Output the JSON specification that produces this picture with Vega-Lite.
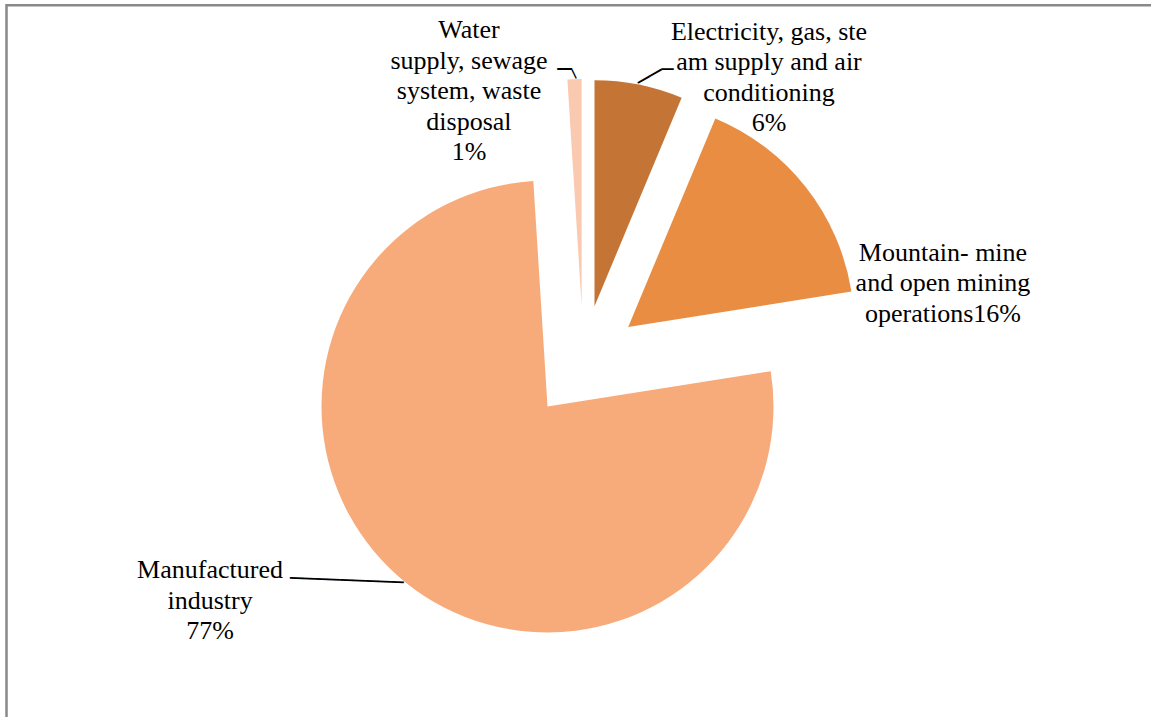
{
  "$schema": "https://vega.github.io/schema/vega-lite/v6.json",
  "width": 1153.6,
  "height": 713.6,
  "autosize": {"type": "none"},
  "padding": {"left": 6.5, "top": 5.3, "right": -9.1, "bottom": -1.9},
  "background": "white",
  "view": {"stroke": "#898989", "strokeWidth": 2.5, "fill": "white"},
  "data": {
    "values": [
      {"category": "Electricity", "share": 6.3, "order": 1, "label": "Electricity, gas, ste\nam supply and air\nconditioning\n6%"},
      {"category": "Mountain", "share": 16.2, "order": 2, "label": "Mountain- mine\nand open mining\noperations16%"},
      {"category": "Manufactured", "share": 76.5, "order": 3, "label": "Manufactured\nindustry\n77%"},
      {"category": "Water", "share": 1.0, "order": 4, "label": "Water\nsupply, sewage\nsystem, waste\ndisposal\n1%"}
    ]
  },
  "transform": [
    {"stack": "share", "groupby": [], "sort": [{"field": "order", "order": "ascending"}], "as": ["s0", "s1"]}
  ],
  "layer": [
    {
      "transform": [{"filter": "datum.category === 'Electricity'"}],
      "mark": {"type": "arc", "outerRadius": 226, "xOffset": 11.2, "yOffset": -55.9},
      "encoding": {
        "theta": {"field": "s0", "type": "quantitative", "scale": {"domain": [0, 100]}},
        "theta2": {"field": "s1"},
        "color": {"field": "category", "type": "nominal", "legend": null,
          "scale": {"domain": ["Electricity", "Mountain", "Manufactured", "Water"], "range": ["#C47535", "#E88D42", "#F7AA7A", "#F9C9B0"]}}
      }
    },
    {
      "transform": [{"filter": "datum.category === 'Mountain'"}],
      "mark": {"type": "arc", "outerRadius": 226, "xOffset": 44.9, "yOffset": -35.2},
      "encoding": {
        "theta": {"field": "s0", "type": "quantitative", "scale": {"domain": [0, 100]}},
        "theta2": {"field": "s1"},
        "color": {"field": "category", "type": "nominal", "legend": null}
      }
    },
    {
      "transform": [{"filter": "datum.category === 'Manufactured'"}],
      "mark": {"type": "arc", "outerRadius": 226, "xOffset": -35.8, "yOffset": 44.4},
      "encoding": {
        "theta": {"field": "s0", "type": "quantitative", "scale": {"domain": [0, 100]}},
        "theta2": {"field": "s1"},
        "color": {"field": "category", "type": "nominal", "legend": null}
      }
    },
    {
      "transform": [{"filter": "datum.category === 'Water'"}],
      "mark": {"type": "arc", "outerRadius": 226, "xOffset": -1.7, "yOffset": -57.0},
      "encoding": {
        "theta": {"field": "s0", "type": "quantitative", "scale": {"domain": [0, 100]}},
        "theta2": {"field": "s1"},
        "color": {"field": "category", "type": "nominal", "legend": null}
      }
    },
    {
      "mark": {"type": "text", "radius": 300, "dx": 126.7, "dy": -27.9, "align": "center", "baseline": "alphabetic", "lineBreak": "\n", "lineHeight": 30.4, "font": "Liberation Serif, Times New Roman, DejaVu Serif, serif", "fontSize": 26, "color": "black"},
      "encoding": {
        "theta": {"field": "share", "type": "quantitative", "stack": "zero", "scale": {"domain": [0, 100]}},
        "order": {"field": "order", "type": "quantitative", "sort": "ascending"},
        "text": {"condition": {"test": "datum.category === 'Electricity'", "field": "label", "type": "nominal"}, "value": ""}
      }
    },
    {
      "mark": {"type": "text", "radius": 300, "dx": 123.8, "dy": 84.0, "align": "center", "baseline": "alphabetic", "lineBreak": "\n", "lineHeight": 30.4, "font": "Liberation Serif, Times New Roman, DejaVu Serif, serif", "fontSize": 26, "color": "black"},
      "encoding": {
        "theta": {"field": "share", "type": "quantitative", "stack": "zero", "scale": {"domain": [0, 100]}},
        "order": {"field": "order", "type": "quantitative", "sort": "ascending"},
        "text": {"condition": {"test": "datum.category === 'Mountain'", "field": "label", "type": "nominal"}, "value": ""}
      }
    },
    {
      "mark": {"type": "text", "radius": 300, "dx": -185.7, "dy": -17.9, "align": "center", "baseline": "alphabetic", "lineBreak": "\n", "lineHeight": 30.4, "font": "Liberation Serif, Times New Roman, DejaVu Serif, serif", "fontSize": 26, "color": "black"},
      "encoding": {
        "theta": {"field": "share", "type": "quantitative", "stack": "zero", "scale": {"domain": [0, 100]}},
        "order": {"field": "order", "type": "quantitative", "sort": "ascending"},
        "text": {"condition": {"test": "datum.category === 'Manufactured'", "field": "label", "type": "nominal"}, "value": ""}
      }
    },
    {
      "mark": {"type": "text", "radius": 300, "dx": -104.9, "dy": -23.9, "align": "center", "baseline": "alphabetic", "lineBreak": "\n", "lineHeight": 30.4, "font": "Liberation Serif, Times New Roman, DejaVu Serif, serif", "fontSize": 26, "color": "black"},
      "encoding": {
        "theta": {"field": "share", "type": "quantitative", "stack": "zero", "scale": {"domain": [0, 100]}},
        "order": {"field": "order", "type": "quantitative", "sort": "ascending"},
        "text": {"condition": {"test": "datum.category === 'Water'", "field": "label", "type": "nominal"}, "value": ""}
      }
    },
    {
      "mark": {"type": "text", "radius": 300, "xOffset": -49, "yOffset": -15, "angle": 2.17, "align": "center", "baseline": "middle", "font": "DejaVu Sans Mono", "fontSize": 21, "color": "black"},
      "encoding": {
        "theta": {"field": "share", "type": "quantitative", "stack": "zero", "scale": {"domain": [0, 100]}},
        "order": {"field": "order", "type": "quantitative", "sort": "ascending"},
        "text": {"condition": {"test": "datum.category === 'Manufactured'", "value": "─────────"}, "value": ""}
      }
    },
    {
      "mark": {"type": "text", "radius": 300, "xOffset": -9.4, "yOffset": 7.8, "angle": 0, "align": "center", "baseline": "middle", "font": "DejaVu Sans Mono", "fontSize": 24, "color": "black"},
      "encoding": {
        "theta": {"field": "share", "type": "quantitative", "stack": "zero", "scale": {"domain": [0, 100]}},
        "order": {"field": "order", "type": "quantitative", "sort": "ascending"},
        "text": {"condition": {"test": "datum.category === 'Water'", "value": "─"}, "value": ""}
      }
    },
    {
      "mark": {"type": "text", "radius": 300, "xOffset": -0.2, "yOffset": 12.0, "angle": 64.3, "align": "center", "baseline": "middle", "font": "DejaVu Sans Mono", "fontSize": 16, "color": "black"},
      "encoding": {
        "theta": {"field": "share", "type": "quantitative", "stack": "zero", "scale": {"domain": [0, 100]}},
        "order": {"field": "order", "type": "quantitative", "sort": "ascending"},
        "text": {"condition": {"test": "datum.category === 'Water'", "value": "─"}, "value": ""}
      }
    },
    {
      "mark": {"type": "text", "radius": 300, "xOffset": 7.7, "yOffset": 8.8, "angle": -29.6, "align": "center", "baseline": "middle", "font": "DejaVu Sans Mono", "fontSize": 22.3, "color": "black"},
      "encoding": {
        "theta": {"field": "share", "type": "quantitative", "stack": "zero", "scale": {"domain": [0, 100]}},
        "order": {"field": "order", "type": "quantitative", "sort": "ascending"},
        "text": {"condition": {"test": "datum.category === 'Electricity'", "value": "──"}, "value": ""}
      }
    },
    {
      "mark": {"type": "text", "radius": 300, "xOffset": 25.2, "yOffset": 2.1, "angle": 0, "align": "center", "baseline": "middle", "font": "DejaVu Sans Mono", "fontSize": 20, "color": "black"},
      "encoding": {
        "theta": {"field": "share", "type": "quantitative", "stack": "zero", "scale": {"domain": [0, 100]}},
        "order": {"field": "order", "type": "quantitative", "sort": "ascending"},
        "text": {"condition": {"test": "datum.category === 'Electricity'", "value": "─"}, "value": ""}
      }
    }
  ]
}
